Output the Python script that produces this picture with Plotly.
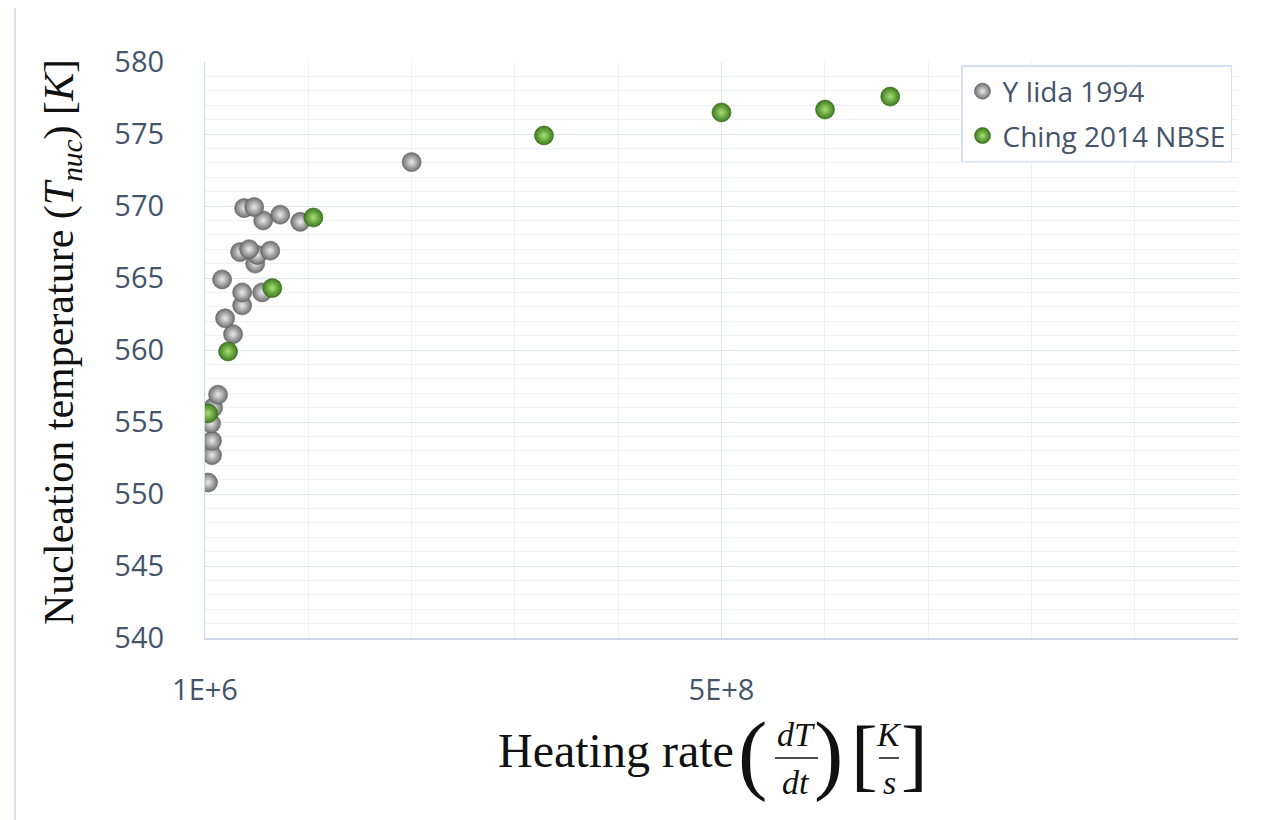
import plotly.graph_objects as go

# ---------------- data ----------------
iida_rate = [3.9e6, 7.8e6, 7.8e6, 6.8e6, 8.8e6, 13.6e6, 28.1e6, 20.4e6, 36.9e6, 36.9e6,
             56.2e6, 17.5e6, 49.5e6, 51.4e6, 34.9e6, 43.6e6, 64.0e6, 93.0e6, 57.2e6,
             73.7e6, 38.8e6, 48.5e6, 200.6e6]
iida_temp = [550.8, 552.7, 553.7, 554.9, 556.0, 556.9, 561.1, 562.2, 563.1, 564.0,
             564.0, 564.9, 566.0, 566.6, 566.8, 567.0, 566.9, 568.9, 569.0,
             569.4, 569.86, 569.93, 573.05]

ching_rate = [4.0e6, 23.3e6, 66.0e6, 105.7e6, 328.5e6, 500.0e6, 600.0e6, 663.0e6]
ching_temp = [555.6, 559.9, 564.3, 569.2, 574.9, 576.5, 576.7, 577.6]

series_names = ["Y Iida 1994", "Ching 2014 NBSE"]
x_tick_vals = [1e6, 5e8]
x_tick_text = ["1E+6", "5E+8"]

# ---------------- layout helpers ----------------
OFF = 8  # page body margin
W, H = 1273, 820
L, R, T, B = 197, 43, 54, 190
PW, PH = W - L - R, H - T - B


def px(x):
    return (x - OFF - L) / PW


def py(y):
    return (H - B - (y - OFF)) / PH


fig = go.Figure()
fig.add_trace(go.Scatter(
    x=iida_rate, y=iida_temp, mode="markers", name=series_names[0],
    marker=dict(size=19, color="#6f6f6f",
                gradient=dict(type="radial", color="#ececec"),
                line=dict(width=0.6, color="#5a5a5a")),
    legendgroup="a"))
fig.add_trace(go.Scatter(
    x=ching_rate, y=ching_temp, mode="markers", name=series_names[1],
    marker=dict(size=19, color="#3b7a1c",
                gradient=dict(type="radial", color="#a8de74"),
                line=dict(width=0.6, color="#2f5f18")),
    legendgroup="b"))

tick_font = dict(family="Open Sans", size=29, color="#44546a")
x_major = 4.99e8
x_minor = x_major / 5

fig.update_xaxes(
    range=[1e6, 1e6 + 2 * x_major],
    tickvals=x_tick_vals, ticktext=x_tick_text,
    tickfont=tick_font, ticks="", ticklabelstandoff=25,
    showgrid=True, gridcolor="#dfe5ee", gridwidth=1.2,
    minor=dict(tick0=1e6, dtick=x_minor, showgrid=True, gridcolor="#eef1f6", gridwidth=1),
    showline=True, linecolor="#cfd7e6", linewidth=1.5,
    zeroline=False,
)
fig.update_yaxes(
    range=[540, 580], dtick=5, tick0=540,
    tickfont=tick_font, ticks="", ticklabelstandoff=34,
    showgrid=True, gridcolor="#dfe5ee", gridwidth=1.2,
    minor=dict(dtick=1, showgrid=True, gridcolor="#eef1f6", gridwidth=1),
    showline=True, linecolor="#cfd7e6", linewidth=1.2,
    zeroline=False,
)

serif = "Liberation Serif"
ink = "#111111"
ann = []
# y-axis title
ann.append(dict(x=px(62), y=py(342), xref="paper", yref="paper", showarrow=False,
                textangle=-90, xanchor="center", yanchor="middle",
                text="Nucleation temperature (<i>T</i><sub><i>nuc</i></sub>) [<i>K</i>]",
                font=dict(family=serif, size=42, color=ink)))
# x-axis title built from pieces
ann.append(dict(x=px(736), y=py(750), xref="paper", yref="paper", showarrow=False,
                xanchor="right", yanchor="middle", text="Heating rate",
                font=dict(family=serif, size=48, color=ink)))
for txt, xx, yy, sz, ital in [("(", 752, 753, 88, False), (")", 828, 753, 88, False),
                              ("[", 864, 754, 80, False), ("]", 914, 754, 80, False),
                              ("dT", 796, 734, 34, True), ("dt", 796, 782, 34, True),
                              ("K", 889, 734, 34, True), ("s", 889, 782, 34, True)]:
    ann.append(dict(x=px(xx), y=py(yy), xref="paper", yref="paper", showarrow=False,
                    xanchor="center", yanchor="middle",
                    text=f"<i>{txt}</i>" if ital else txt,
                    font=dict(family=serif, size=sz, color=ink)))

shapes = [
    dict(type="line", xref="paper", yref="paper", x0=px(775), x1=px(818), y0=py(758), y1=py(758),
         line=dict(color=ink, width=1.5)),
    dict(type="line", xref="paper", yref="paper", x0=px(879), x1=px(899), y0=py(758), y1=py(758),
         line=dict(color=ink, width=1.5)),
    # outer chart border
    dict(type="line", xref="paper", yref="paper", x0=px(15), x1=px(15), y0=py(5), y1=py(830),
         line=dict(color="#d9e2f0", width=2)),
    dict(type="line", xref="paper", yref="paper", x0=px(15), x1=px(1290), y0=py(5), y1=py(5),
         line=dict(color="#d9e2f0", width=2)),
]

fig.update_layout(
    width=W, height=H, autosize=False,
    margin=dict(l=L, r=R, t=T, b=B),
    paper_bgcolor="white", plot_bgcolor="white",
    annotations=ann, shapes=shapes,
    legend=dict(x=px(1232), y=py(65), xanchor="right", yanchor="top",
                bgcolor="white", bordercolor="#d6e0ee", borderwidth=1.5,
                font=dict(family="Open Sans", size=28, color="#44546a"),
                tracegroupgap=5, itemsizing="trace"),
    showlegend=True,
)

fig.write_html("out.html")
